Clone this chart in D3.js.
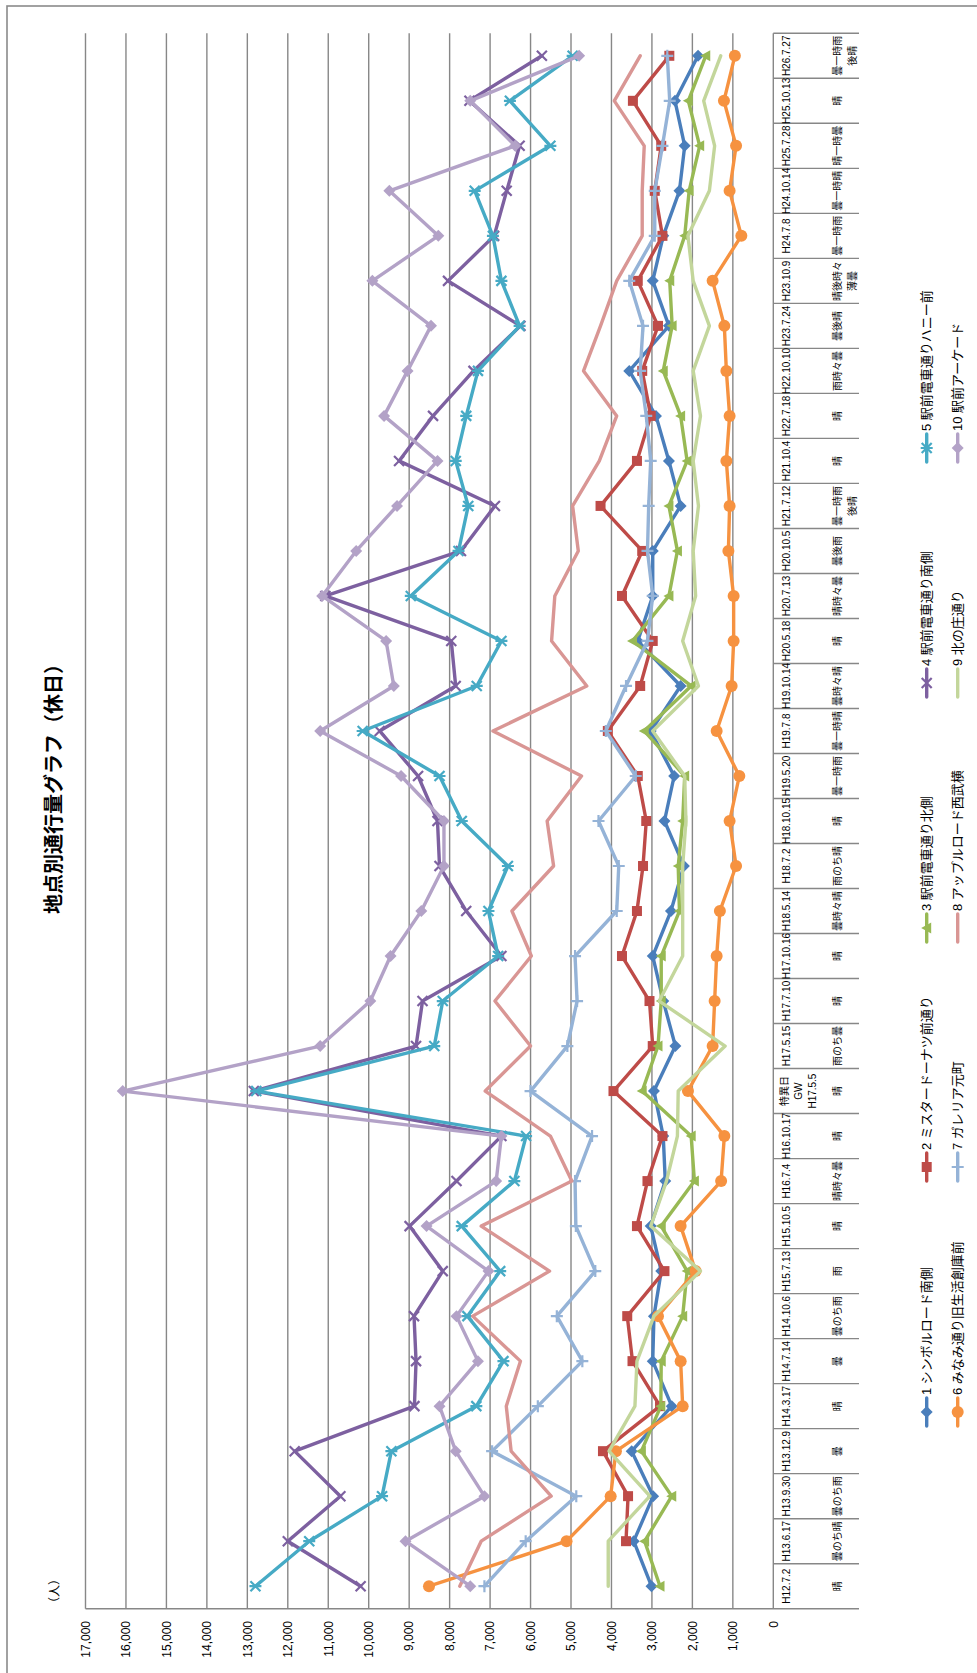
<!DOCTYPE html>
<html><head><meta charset="utf-8">
<script src="https://cdn.jsdelivr.net/npm/d3@7"></script>
<style>body{margin:0;background:#fff}svg{display:block}</style>
</head><body>
<svg id="c" width="977" height="1673"></svg>
<script>
const categories = [["H12.7.2"],["H13.6.17"],["H13.9.30"],["H13.12.9"],["H14.3.17"],["H14.7.14"],["H14.10.6"],["H15.7.13"],["H15.10.5"],["H16.7.4"],["H16.10.17"],["特異日","GW","H17.5.5"],["H17.5.15"],["H17.7.10"],["H17.10.16"],["H18.5.14"],["H18.7.2"],["H18.10.15"],["H19.5.20"],["H19.7.8"],["H19.10.14"],["H20.5.18"],["H20.7.13"],["H20.10.5"],["H21.7.12"],["H21.10.4"],["H22.7.18"],["H22.10.10"],["H23.7.24"],["H23.10.9"],["H24.7.8"],["H24.10.14"],["H25.7.28"],["H25.10.13"],["H26.7.27"]];
const weather = [["晴"],["曇のち晴"],["曇のち雨"],["曇"],["晴"],["曇"],["曇のち雨"],["雨"],["晴"],["晴時々曇"],["晴"],["晴"],["雨のち曇"],["晴"],["晴"],["曇時々晴"],["雨のち晴"],["晴"],["曇一時雨"],["曇一時晴"],["曇時々晴"],["晴"],["晴時々曇"],["曇後雨"],["曇一時雨","後晴"],["晴"],["晴"],["雨時々曇"],["曇後晴"],["晴後時々","薄曇"],["曇一時雨"],["曇一時晴"],["晴一時曇"],["晴"],["曇一時雨","後晴"]];
const seriesNames = ["1 シンボルロード南側","2 ミスタードーナツ前通り","3 駅前電車通り北側","4 駅前電車通り南側","5 駅前電車通りハニー前","6 みなみ通り旧生活創庫前","7 ガレリア元町","8 アップルロード西武横","9 北の庄通り","10 駅前アーケード"];
const s1 = [3010,3450,2970,3500,2510,2980,2950,2770,3030,2670,2720,2950,2420,2720,2980,2530,2210,2690,2450,3030,2290,3350,2980,2980,2290,2580,2900,3560,2580,2980,2720,2320,2190,2430,1860];
const s2 = [null,3640,3590,4210,2800,3480,3610,2690,3370,3110,2740,3950,2980,3060,3740,3370,3220,3140,3350,4090,3290,2980,3740,3240,4270,3370,3030,3240,2850,3350,2740,2930,2770,3470,2570];
const s3 = [2800,3180,2510,3260,2780,2770,2240,2130,2770,1950,2030,3240,2850,2770,2770,2320,2350,2240,2190,3190,2030,3480,2580,2370,2580,2130,2290,2720,2500,2560,2190,2080,1820,2100,1670];
const s4 = [10200,12000,10700,11830,8870,8830,8880,8170,8990,7830,6720,12840,8830,8670,6720,7590,8250,8300,8780,9730,7850,7960,11070,7720,6880,9250,8410,7410,6250,8040,6900,6590,6270,7510,5720];
const s5 = [12800,11470,9670,9440,7340,6670,7560,6750,7700,6400,6110,12780,8380,8170,6800,7040,6560,7700,8250,10150,7330,6720,8960,7780,7540,7850,7590,7300,6270,6720,6930,7380,5510,6510,4960];
const s6 = [8510,5110,4020,3890,2240,2290,2850,1920,2290,1290,1210,2110,1500,1450,1400,1320,920,1080,840,1400,1030,980,980,1110,1080,1160,1080,1160,1210,1500,790,1080,920,1220,950];
const s7 = [7140,6120,4870,6950,5820,4720,5350,4400,4880,4900,4480,6000,5090,4850,4900,3870,3820,4320,3400,4140,3640,3110,2980,3110,3080,3030,3140,3290,3220,3560,2930,2930,2740,2560,2620];
const s8 = [7750,7220,5490,6480,6600,6250,7430,5530,7220,4980,5510,7120,6000,6880,5980,6460,5430,5590,4740,6930,4610,5480,5400,4820,4960,4300,3870,4690,4270,3870,3240,3240,3190,3930,3290];
const s9 = [4080,4080,3050,4060,3420,3370,2950,1800,3030,2640,2370,2350,1190,2820,2240,2240,2240,2160,2190,2980,1850,2240,1920,1980,1850,1980,1800,1980,1580,1980,2110,1580,1450,1720,1300];
const s10 = [7490,9090,7140,7850,8250,7300,7830,7040,8570,6850,6720,16080,11200,9960,9460,8700,8140,8140,9200,11200,9380,9570,11150,10310,9300,8300,9620,9040,8460,9910,8280,9490,6380,7490,4800];
const valueTicks = d3.range(0, 17001, 1000);

const seriesData = [s1,s2,s3,s4,s5,s6,s7,s8,s9,s10];
const colors = ["#4A7EBB","#BE4B48","#98B954","#7D60A0","#46AAC5","#F69240","#95B3D7","#D99694","#C3D69B","#B3A2C7"];
const markers = ["diamond","square","triangle","x","star","circle","plus",null,null,"diamond"];

const svg = d3.select("#c");
svg.append("rect").attr("width",977).attr("height",1673).attr("fill","#fff");
// chart drawn in its own frame, then turned a quarter turn counter-clockwise
const g = svg.append("g").attr("transform","translate(0,1673) rotate(-90)");

const FONT = "'Liberation Sans','Noto Sans CJK JP',sans-serif";
const plotL = 64.3, plotR = 1639.7, plotT = 85.5, plotB = 773.3, boxB = 859;

g.append("rect").attr("x",-20).attr("y",7).attr("width",1687).attr("height",1000)
  .attr("fill","none").attr("stroke","#8a8a8a").attr("stroke-width",1.6);

const x = d3.scaleBand().domain(d3.range(categories.length)).range([plotL, plotR]).padding(0);
const y = d3.scaleLinear().domain([0,17000]).range([plotB, plotT]);
const cx = i => x(i) + x.bandwidth()/2;

// gridlines
g.append("g").selectAll("line").data(valueTicks).join("line")
  .attr("x1",plotL).attr("x2",plotR).attr("y1",d=>y(d)).attr("y2",d=>y(d))
  .attr("stroke","#878787").attr("stroke-width",1.4);
// value axis line (left) and category dividers
g.append("line").attr("x1",plotL).attr("x2",plotL).attr("y1",plotT).attr("y2",boxB)
  .attr("stroke","#878787").attr("stroke-width",1.4);
g.append("g").selectAll("line").data(d3.range(1, categories.length+1)).join("line")
  .attr("x1",i=>x(i-1)+x.bandwidth()).attr("x2",i=>x(i-1)+x.bandwidth())
  .attr("y1",plotB).attr("y2",boxB).attr("stroke","#878787").attr("stroke-width",1.4);

// value tick labels
g.append("g").selectAll("text").data(valueTicks).join("text")
  .attr("x",52).attr("y",d=>y(d)+4.3).attr("text-anchor","end")
  .attr("font-family",FONT).attr("font-size",12).attr("fill","#000")
  .text(d3.format(","));
g.append("text").attr("x",82).attr("y",59).attr("text-anchor","middle")
  .attr("font-family","'Noto Sans CJK JP',sans-serif").attr("font-size",12).text("（人）");

// title
g.append("text").attr("x",889).attr("y",61).attr("text-anchor","middle")
  .attr("font-family","'Noto Sans CJK JP',sans-serif").attr("font-weight","bold")
  .attr("font-size",20).text("地点別通行量グラフ（休日）");

// category labels
const catG = g.append("g").attr("font-family",FONT).attr("font-size",10).attr("fill","#000").attr("text-anchor","middle");
categories.forEach((lines,i)=>{
  const starts = lines.length>1 ? [784,798,812] : [786.7];
  lines.forEach((t,k)=>catG.append("text").attr("x",cx(i)).attr("y",starts[k]+3.6).text(t));
  weather[i].forEach((t,k)=>catG.append("text").attr("x",cx(i)).attr("y",837+15*k+3.6)
     .attr("font-family","'Noto Sans CJK JP',sans-serif").text(t));
});

function drawMarker(sel, type, color){
  if(type==="diamond") sel.append("path").attr("d","M0,-6L6,0L0,6L-6,0Z").attr("fill",color);
  else if(type==="square") sel.append("rect").attr("x",-5).attr("y",-5).attr("width",10).attr("height",10).attr("fill",color);
  else if(type==="triangle") sel.append("path").attr("d","M0,-5.5L5.5,4.5L-5.5,4.5Z").attr("fill",color);
  else if(type==="circle") sel.append("circle").attr("r",6).attr("fill",color);
  else if(type==="x") sel.append("path").attr("d","M-5,-5L5,5M-5,5L5,-5").attr("stroke",color).attr("stroke-width",2.2).attr("fill","none");
  else if(type==="star") sel.append("path").attr("d","M-5,-5L5,5M-5,5L5,-5M0,-6L0,6").attr("stroke",color).attr("stroke-width",2.2).attr("fill","none");
  else if(type==="plus") sel.append("path").attr("d","M-6,0L6,0M0,-6L0,6").attr("stroke",color).attr("stroke-width",2.2).attr("fill","none");
}

const line = d3.line().defined(d=>d.v!=null).x(d=>cx(d.i)).y(d=>y(d.v));
seriesData.forEach((arr,si)=>{
  const pts = arr.map((v,i)=>({i,v}));
  const sg = g.append("g");
  sg.append("path").datum(pts).attr("d",line).attr("fill","none")
    .attr("stroke",colors[si]).attr("stroke-width",3.4).attr("stroke-linejoin","round").attr("stroke-linecap","round");
  if(markers[si]){
    pts.filter(d=>d.v!=null).forEach(d=>{
      const m = sg.append("g").attr("transform",`translate(${cx(d.i)},${y(d.v)})`);
      drawMarker(m, markers[si], colors[si]);
    });
  }
});

// legend
const legendX = [261,506,745,990,1225];
const legendY = [926.7,957.7];
seriesNames.forEach((name,si)=>{
  const col = si%5, row = Math.floor(si/5);
  const lg = g.append("g").attr("transform",`translate(${legendX[col]},${legendY[row]})`);
  lg.append("line").attr("x1",-14).attr("x2",14).attr("stroke",colors[si]).attr("stroke-width",3.4).attr("stroke-linecap","round");
  if(markers[si]) drawMarker(lg, markers[si], colors[si]);
  lg.append("text").attr("x",17).attr("y",4.5).attr("font-family",FONT).attr("font-size",13).text(name);
});
</script>
</body></html>
